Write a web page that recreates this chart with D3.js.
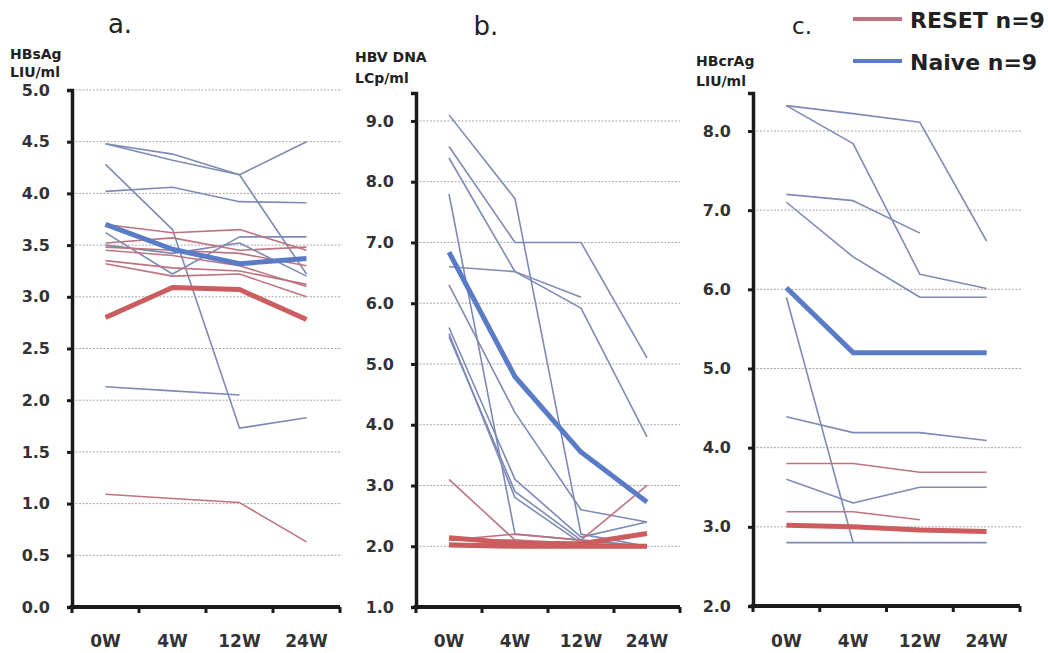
<!DOCTYPE html>
<html>
<head>
<meta charset="utf-8">
<script src="https://cdn.jsdelivr.net/npm/d3@7"></script>
<style>
  body { margin: 0; background: #fff; }
  text { font-family: 'DejaVu Sans', Verdana, sans-serif; }
</style>
</head>
<body>
<script>
const weeks = ['0W', '4W', '12W', '24W']

// a. HBsAg (log IU/ml)
const hbsagNaive = [
    [4.48, 4.38, 4.18, 4.5],
    [4.48, 4.32, 4.18, 3.22],
    [4.28, 3.65, 1.73, 1.83],
    [4.02, 4.06, 3.92, 3.91],
    [3.62, 3.22, 3.58, 3.58],
    [3.5, 3.42, 3.52, 3.2],
    [2.13, 2.09, 2.05, null],
]
const hbsagReset = [
    [3.7, 3.62, 3.65, 3.45],
    [3.52, 3.57, 3.45, 3.48],
    [3.48, 3.45, 3.42, 3.3],
    [3.35, 3.28, 3.25, 3.12],
    [3.32, 3.2, 3.22, 3.0],
    [3.45, 3.4, 3.3, 3.1],
    [1.09, 1.05, 1.01, 0.63],
]
const hbsagNaiveMean = [3.7, 3.46, 3.32, 3.37]
const hbsagResetMean = [2.8, 3.09, 3.07, 2.78]

// b. HBV DNA (log copies/ml)
const dnaNaive = [
    [9.1, 7.72, 2.2, 2.0],
    [8.58, 7.0, 7.0, 5.1],
    [8.39, 6.52, 5.92, 3.8],
    [7.8, 2.2, 2.1, 2.0],
    [6.6, 6.52, 6.1, null],
    [6.3, 4.2, 2.6, 2.4],
    [5.6, 3.1, 2.15, 2.4],
    [5.45, 2.9, 2.1, 2.0],
    [5.5, 2.8, 2.05, 2.0],
]
const dnaReset = [
    [3.1, 2.1, 2.0, 2.0],
    [2.1, 2.2, 2.1, 3.0],
    [2.0, 2.0, 2.0, 2.0],
    [2.02, 2.05, 2.0, 2.0],
    [2.05, 2.02, 2.02, 2.0],
    [2.1, 2.1, 2.05, 2.0],
]
const dnaNaiveMean = [6.84, 4.79, 3.55, 2.73]
const dnaResetMean = [2.14, 2.05, 2.04, 2.21]
const dnaResetLow = [2.02, 2.0, 2.0, 2.0]

// c. HBcrAg (log U/ml)
const hbcragNaive = [
    [8.32, 8.22, 8.11, 6.61],
    [8.32, 7.84, 6.19, 6.01],
    [7.2, 7.12, 6.71, null],
    [7.1, 6.41, 5.9, 5.9],
    [5.9, 2.8, null, null],
    [4.39, 4.19, 4.19, 4.09],
    [3.6, 3.3, 3.5, 3.5],
    [2.8, 2.8, 2.8, 2.8],
]
const hbcragReset = [
    [3.8, 3.8, 3.69, 3.69],
    [3.19, 3.19, 3.09, null],
]
const hbcragNaiveMean = [6.02, 5.2, 5.2, 5.2]
const hbcragResetMean = [3.02, 3.0, 2.96, 2.94]

const legendLabels = ['RESET n=9', 'Naive n=9']

const thinBlue = '#7d8ab5'
const thinRed = '#bd7480'
const thickBlue = '#5a7cc6'
const thickRed = '#cc5c5e'

const width = 1048
const height = 653

const svg = d3
    .select('body')
    .append('svg')
    .attr('width', width)
    .attr('height', height)

const panels = [
    {
        title: 'a.', titleX: 120, titleY: 33, titleSize: 26,
        label: ['HBsAg', 'LIU/ml'], labelX: 10, labelY: [59, 77],
        left: 72, right: 340, plotRight: 342, top: 90, bottom: 607,
        domain: [0, 5], ticks: d3.range(0, 5.01, 0.5),
        naive: hbsagNaive, reset: hbsagReset,
        means: [[hbsagNaiveMean, thickBlue], [hbsagResetMean, thickRed]],
    },
    {
        title: 'b.', titleX: 486, titleY: 35, titleSize: 26,
        label: ['HBV DNA', 'LCp/ml'], labelX: 355, labelY: [62, 83],
        left: 416, right: 680, plotRight: 680, top: 93, bottom: 607,
        domain: [1, 9.46], ticks: d3.range(1, 9.01, 1),
        naive: dnaNaive, reset: dnaReset,
        means: [[dnaResetLow, thickRed], [dnaResetMean, thickRed], [dnaNaiveMean, thickBlue]],
    },
    {
        title: 'c.', titleX: 802, titleY: 34, titleSize: 23,
        label: ['HBcrAg', 'LIU/ml'], labelX: 696, labelY: [66, 86],
        left: 753, right: 1020, plotRight: 1022, top: 93, bottom: 606,
        domain: [2, 8.48], ticks: d3.range(2, 8.01, 1),
        naive: hbcragNaive, reset: hbcragReset,
        means: [[hbcragNaiveMean, thickBlue], [hbcragResetMean, thickRed]],
    },
]

panels.forEach((p) => {
    const x = d3.scaleBand().domain(weeks).range([p.left, p.right])
    const y = d3.scaleLinear().domain(p.domain).range([p.bottom, p.top])
    const g = svg.append('g')

    // gridlines
    g.selectAll('.grid')
        .data(p.ticks.filter((t) => t > p.domain[0]))
        .enter()
        .append('line')
        .attr('x1', p.left)
        .attr('x2', p.plotRight)
        .attr('y1', (d) => y(d))
        .attr('y2', (d) => y(d))
        .attr('stroke', '#a8a8a8')
        .attr('stroke-width', 1)
        .attr('stroke-dasharray', '2,1.5')

    const line = d3
        .line()
        .defined((d) => d != null)
        .x((d, i) => x(weeks[i]) + x.bandwidth() / 2)
        .y((d) => y(d))

    const drawSet = (set, color, w) => {
        g.append('g')
            .selectAll('path')
            .data(set)
            .enter()
            .append('path')
            .attr('d', line)
            .attr('fill', 'none')
            .attr('stroke', color)
            .attr('stroke-width', w)
            .attr('stroke-linejoin', 'round')
    }
    drawSet(p.naive, thinBlue, 1.6)
    drawSet(p.reset, thinRed, 1.6)
    p.means.forEach(([m, c]) => drawSet([m], c, 5))

    // y axis
    const yAxis = d3
        .axisLeft(y)
        .tickValues(p.ticks)
        .tickSize(5)
        .tickPadding(17)
        .tickFormat(d3.format('.1f'))
    const ya = g
        .append('g')
        .attr('transform', `translate(${p.left},0)`)
        .call(yAxis)
    ya.select('.domain').attr('stroke', '#1a1a1a').attr('stroke-width', 3.5)
    ya.selectAll('.tick line').attr('stroke', '#1a1a1a').attr('stroke-width', 3)
    ya.selectAll('.tick text')
        .style('font-size', '16px')
        .style('font-weight', 'bold')
        .attr('fill', '#333')

    // x axis
    const bounds = weeks.map((w) => x(w)).concat([p.right])
    const xa = g.append('g')
    xa.append('line')
        .attr('x1', p.left - 2)
        .attr('x2', p.right)
        .attr('y1', p.bottom)
        .attr('y2', p.bottom)
        .attr('stroke', '#1a1a1a')
        .attr('stroke-width', 4)
    xa.selectAll('.xt')
        .data(bounds)
        .enter()
        .append('line')
        .attr('x1', (d) => d)
        .attr('x2', (d) => d)
        .attr('y1', p.bottom)
        .attr('y2', p.bottom + 6)
        .attr('stroke', '#1a1a1a')
        .attr('stroke-width', 3)
    xa.selectAll('.xl')
        .data(weeks)
        .enter()
        .append('text')
        .attr('x', (d) => x(d) + x.bandwidth() / 2)
        .attr('y', 647)
        .attr('text-anchor', 'middle')
        .style('font-size', '17px')
        .style('font-weight', 'bold')
        .attr('fill', '#333')
        .text((d) => d)

    // titles and labels
    g.append('text')
        .attr('x', p.titleX)
        .attr('y', p.titleY)
        .attr('text-anchor', 'middle')
        .style('font-size', `${p.titleSize}px`)
        .attr('fill', '#222')
        .text(p.title)
    p.label.forEach((t, i) => {
        g.append('text')
            .attr('x', p.labelX)
            .attr('y', p.labelY[i])
            .style('font-size', '14px')
            .style('font-weight', 'bold')
            .attr('fill', '#222')
            .text(t)
    })
})

// Legend
const legend = svg.append('g')
legendLabels.forEach((t, i) => {
    const cy = i === 0 ? 19 : 61
    legend
        .append('line')
        .attr('x1', 853)
        .attr('x2', 902)
        .attr('y1', cy)
        .attr('y2', cy)
        .attr('stroke', i === 0 ? thinRed : thickBlue)
        .attr('stroke-width', 4)
    legend
        .append('text')
        .attr('x', 910)
        .attr('y', cy + 9)
        .style('font-size', '22px')
        .style('font-weight', 'bold')
        .attr('fill', '#222')
        .text(t)
})
</script>
</body>
</html>
